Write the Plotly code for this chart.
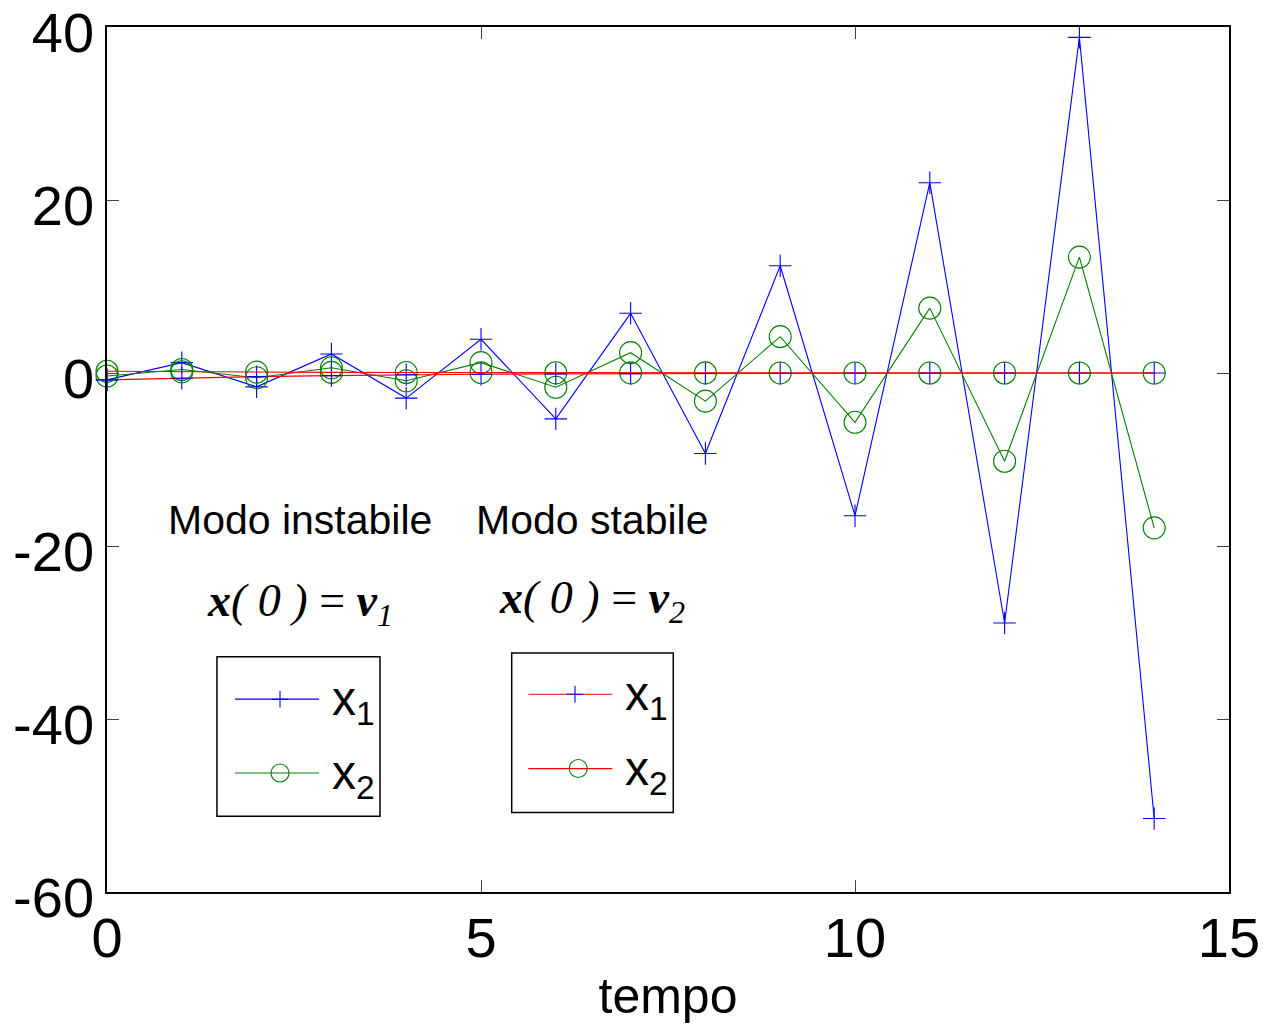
import plotly.graph_objects as go

# time steps
tempo = list(range(15))

# unstable mode, x(0) = v1
instabile_x1 = [-0.8, 1.2, -1.6, 2.2, -2.9, 3.9, -5.3, 6.9, -9.3, 12.4, -16.5, 22.0, -28.9, 38.8, -51.5]
instabile_x2 = [-0.35, 0.4, -0.55, 0.6, -0.9, 1.2, -1.65, 2.35, -3.25, 4.2, -5.7, 7.5, -10.2, 13.4, -17.9]

# stable mode, x(0) = v2
stabile_x1 = [-0.8, -0.6, -0.42, -0.3, -0.2, -0.14, -0.1, -0.07, -0.05, -0.03, -0.02, -0.015, -0.01, -0.007, -0.005]
stabile_x2 = [0.2, 0.14, 0.1, 0.07, 0.05, 0.035, 0.025, 0.017, 0.012, 0.008, 0.006, 0.004, 0.003, 0.002, 0.001]

x_ticks = [0, 5, 10, 15]
y_ticks = [-60, -40, -20, 0, 20, 40]

BLUE = "#0000ff"
GREEN = "#008000"
RED = "#ff0000"
SANS = "Liberation Sans, Arial, sans-serif"
SERIF = "Liberation Serif, Times New Roman, serif"

fig = go.Figure()

def series(y, line_color, marker_color, symbol, size):
    fig.add_trace(go.Scatter(
        x=tempo, y=y, mode="lines+markers",
        line=dict(color=line_color, width=1.1),
        marker=dict(symbol=symbol, size=size, color=marker_color,
                    line=dict(color=marker_color, width=1.1)),
        showlegend=False, hoverinfo="skip", cliponaxis=False,
    ))

series(instabile_x1, BLUE, BLUE, "cross-thin", 16)
series(instabile_x2, GREEN, GREEN, "circle-open", 22)
series(stabile_x1, RED, BLUE, "cross-thin", 16)
series(stabile_x2, RED, GREEN, "circle-open", 22)

# legend keys, drawn on an overlay axis spanning the plot area (0..1)
legend_keys = [
    # (x_start, x_end, x_marker, y, line colour, marker colour, symbol, size)
    (0.1141, 0.1890, 0.1542, 0.2229, BLUE, BLUE, "cross-thin", 12),
    (0.1141, 0.1890, 0.1542, 0.1376, GREEN, GREEN, "circle-open", 18),
    (0.3755, 0.4504, 0.4171, 0.2286, RED, BLUE, "cross-thin", 12),
    (0.3755, 0.4504, 0.4200, 0.1427, RED, GREEN, "circle-open", 18),
]
for xs, xe, xm, yk, lc, mc, sym, sz in legend_keys:
    fig.add_trace(go.Scatter(
        x=[xs, xe], y=[yk, yk], mode="lines", line=dict(color=lc, width=1.2),
        xaxis="x2", yaxis="y2", showlegend=False, hoverinfo="skip"))
    fig.add_trace(go.Scatter(
        x=[xm], y=[yk], mode="markers",
        marker=dict(symbol=sym, size=sz, color=mc, line=dict(color=mc, width=1.1)),
        xaxis="x2", yaxis="y2", showlegend=False, hoverinfo="skip"))

legend_boxes = [(0.098, 0.0875, 0.2433, 0.272), (0.3607, 0.0918, 0.5047, 0.2764)]
shapes = [
    dict(type="rect", xref="paper", yref="paper", x0=a, y0=b, x1=c, y1=d,
         line=dict(color="black", width=1.5), fillcolor="rgba(0,0,0,0)", layer="above")
    for a, b, c, d in legend_boxes
]

legend_labels = [
    (0.1988, 0.2229, "x<sub>1</sub>"),
    (0.1988, 0.1376, "x<sub>2</sub>"),
    (0.4600, 0.2286, "x<sub>1</sub>"),
    (0.4600, 0.1427, "x<sub>2</sub>"),
]
annotations = [
    dict(x=xa, y=ya, xref="paper", yref="paper", text=t, showarrow=False,
         xanchor="left", yanchor="middle", yshift=-3,
         font=dict(family=SANS, size=48, color="black"))
    for xa, ya, t in legend_labels
]

annotations += [
    dict(x=2.58, y=-17.0, xref="x", yref="y", text="Modo instabile", showarrow=False,
         font=dict(family=SANS, size=41, color="black")),
    dict(x=6.48, y=-17.0, xref="x", yref="y", text="Modo stabile", showarrow=False,
         font=dict(family=SANS, size=41, color="black")),
    dict(x=2.58, y=-26.7, xref="x", yref="y",
         text="<b><i>x</i></b><i>( 0 )</i> = <b><i>v</i></b><sub><i>1</i></sub>",
         showarrow=False, font=dict(family=SERIF, size=46, color="black")),
    dict(x=6.48, y=-26.4, xref="x", yref="y",
         text="<b><i>x</i></b><i>( 0 )</i> = <b><i>v</i></b><sub><i>2</i></sub>",
         showarrow=False, font=dict(family=SERIF, size=46, color="black")),
]

axis_common = dict(
    showgrid=False, zeroline=False, showline=True, linecolor="black", linewidth=1.5,
    mirror="ticks", ticks="inside", ticklen=12, tickwidth=1, tickcolor="#444",
    tickfont=dict(family=SANS, size=56, color="black"), automargin=False,
    ticklabeloverflow="allow",
)

fig.update_layout(
    width=1263, height=1027,
    margin=dict(l=107, r=34, t=27, b=135),
    paper_bgcolor="white", plot_bgcolor="white",
    xaxis=dict(range=[0, 15], tickvals=x_ticks, ticktext=[str(v) for v in x_ticks],
               title=dict(text="tempo", font=dict(family=SANS, size=50, color="black"),
                          standoff=10),
               ticklabelstandoff=-4,
               **axis_common),
    yaxis=dict(range=[-60, 40], tickvals=y_ticks, ticktext=[str(v) for v in y_ticks],
               ticklabelshift=5,
               **axis_common),
    xaxis2=dict(range=[0, 1], overlaying="x", visible=False, fixedrange=True),
    yaxis2=dict(range=[0, 1], overlaying="y", visible=False, fixedrange=True),
    shapes=shapes,
    annotations=annotations,
    showlegend=False,
)

fig.write_html("out.html")
